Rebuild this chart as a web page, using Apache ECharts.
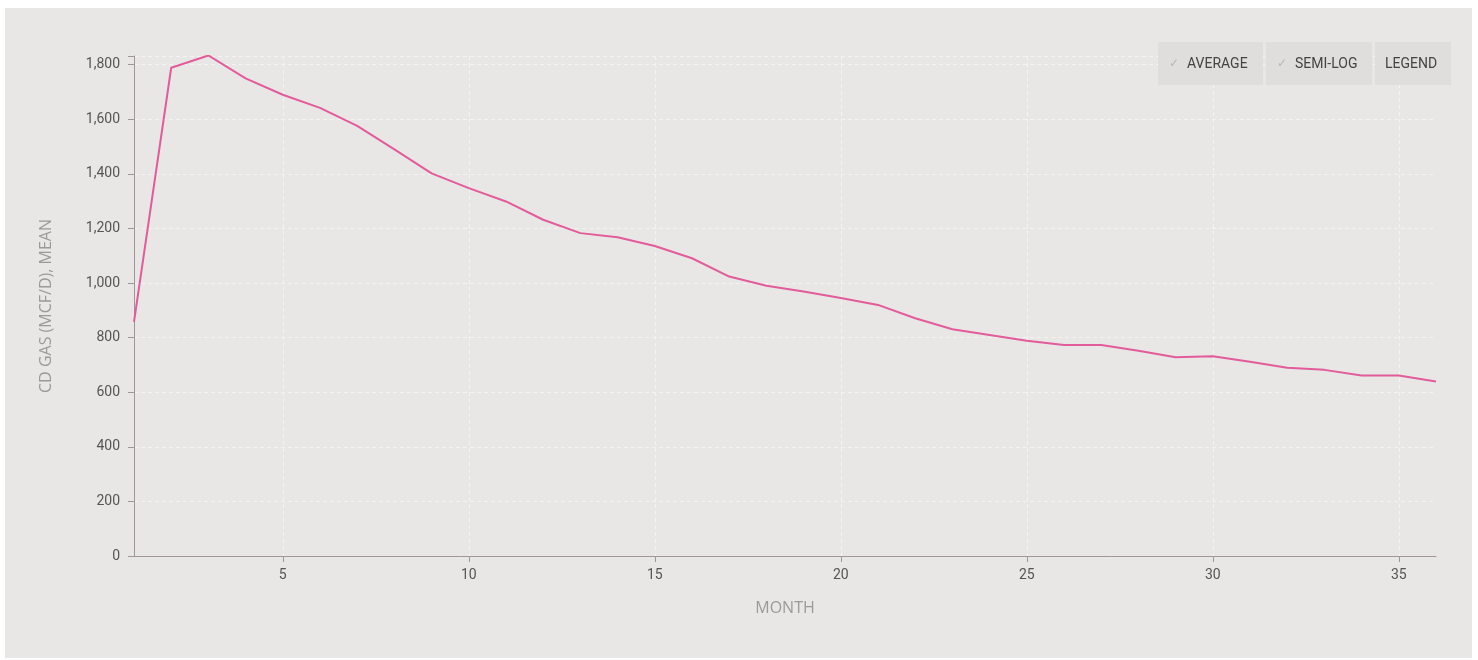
<!DOCTYPE html>
<html>
<head>
<meta charset="utf-8">
<script src="https://cdn.jsdelivr.net/npm/echarts@6/dist/echarts.min.js"></script>
<style>
  html, body { margin: 0; padding: 0; background: #ffffff; }
  #panel { position: absolute; left: 5px; top: 8px; width: 1467px; height: 650px; background: #e8e7e5; }
  #chart { position: absolute; left: 0; top: 0; width: 1478px; height: 660px; }
</style>
</head>
<body>
<div id="panel"></div>
<div id="chart"></div>
<script>
const months = [1,2,3,4,5,6,7,8,9,10,11,12,13,14,15,16,17,18,19,20,21,22,23,24,25,26,27,28,29,30,31,32,33,34,35,36];
const gasMean = [858,1789,1834,1750,1690,1642,1576,1490,1402,1348,1299,1232,1183,1168,1136,1091,1024,990,969,945,920,871,831,810,789,773,773,752,728,732,712,690,682,661,661,639];
const xTickValues = [5,10,15,20,25,30,35];
const yTickStep = 200;
const xAxisName = 'MONTH';
const yAxisName = 'CD GAS (MCF/D), MEAN';
const buttons = ['AVERAGE', 'SEMI-LOG', 'LEGEND'];
const buttonChecks = [true, true, false];

const chart = echarts.init(document.getElementById('chart'), null, { renderer: 'canvas' });
const font = 'Roboto, "Open Sans", sans-serif';
const nameFont = '"Open Sans", Roboto, sans-serif';

const btnX = [1158, 1266, 1375];
const btnW = [105, 106, 76];
const graphics = [];
buttons.forEach((b, i) => {
  graphics.push({ type: 'rect', z: 100, left: btnX[i], top: 42, shape: { width: btnW[i], height: 43 }, style: { fill: '#dfdedc' }, silent: true });
  if (buttonChecks[i]) {
    graphics.push({ type: 'text', z: 101, x: btnX[i] + 11, y: 64, style: { text: '\u2713', fill: '#b8b8b8', font: '12px ' + font, verticalAlign: 'middle' } });
    graphics.push({ type: 'text', z: 101, x: btnX[i] + 29, y: 64, style: { text: b, fill: '#444', font: '14px ' + font, verticalAlign: 'middle' } });
  } else {
    graphics.push({ type: 'text', z: 101, x: btnX[i] + 10, y: 64, style: { text: b, fill: '#444', font: '14px ' + font, verticalAlign: 'middle' } });
  }
});

const option = {
  backgroundColor: 'transparent',
  animation: false,
  grid: { left: 134, right: 42, top: 56, bottom: 104, containLabel: false },
  xAxis: {
    type: 'value', min: 1, max: 36,
    name: xAxisName, nameLocation: 'middle', nameGap: 44,
    nameTextStyle: { color: '#9a9a9a', fontSize: 16, fontFamily: nameFont },
    axisLine: { show: true, lineStyle: { color: '#a09696', width: 1 } },
    axisTick: { show: true, length: 6, customValues: xTickValues, lineStyle: { color: '#a09696' } },
    axisLabel: { customValues: xTickValues, color: '#555', fontSize: 14, fontFamily: font, margin: 12 },
    splitLine: { show: true, lineStyle: { color: '#f3f3f2', type: [4, 3], width: 1 } }
  },
  yAxis: {
    type: 'value', min: 0, max: 1832, interval: yTickStep,
    name: yAxisName, nameLocation: 'middle', nameGap: 80, nameRotate: 90,
    nameTextStyle: { color: '#9a9a9a', fontSize: 16, fontFamily: nameFont },
    axisLine: { show: true, lineStyle: { color: '#a09696', width: 1 } },
    axisTick: { show: true, length: 6, lineStyle: { color: '#a09696' } },
    axisLabel: {
      color: '#555', fontSize: 14, fontFamily: font, margin: 14,
      formatter: v => (v % yTickStep === 0 ? v.toLocaleString('en-US') : '')
    },
    splitLine: { show: true, lineStyle: { color: '#f3f3f2', type: [4, 3], width: 1 } }
  },
  series: [{
    type: 'line',
    data: months.map((m, i) => [m, gasMean[i]]),
    showSymbol: false,
    smooth: false,
    lineStyle: { color: '#e25b9b', width: 2 },
    itemStyle: { color: '#e25b9b' }
  }],
  graphic: graphics
};
chart.setOption(option);
</script>
</body>
</html>
